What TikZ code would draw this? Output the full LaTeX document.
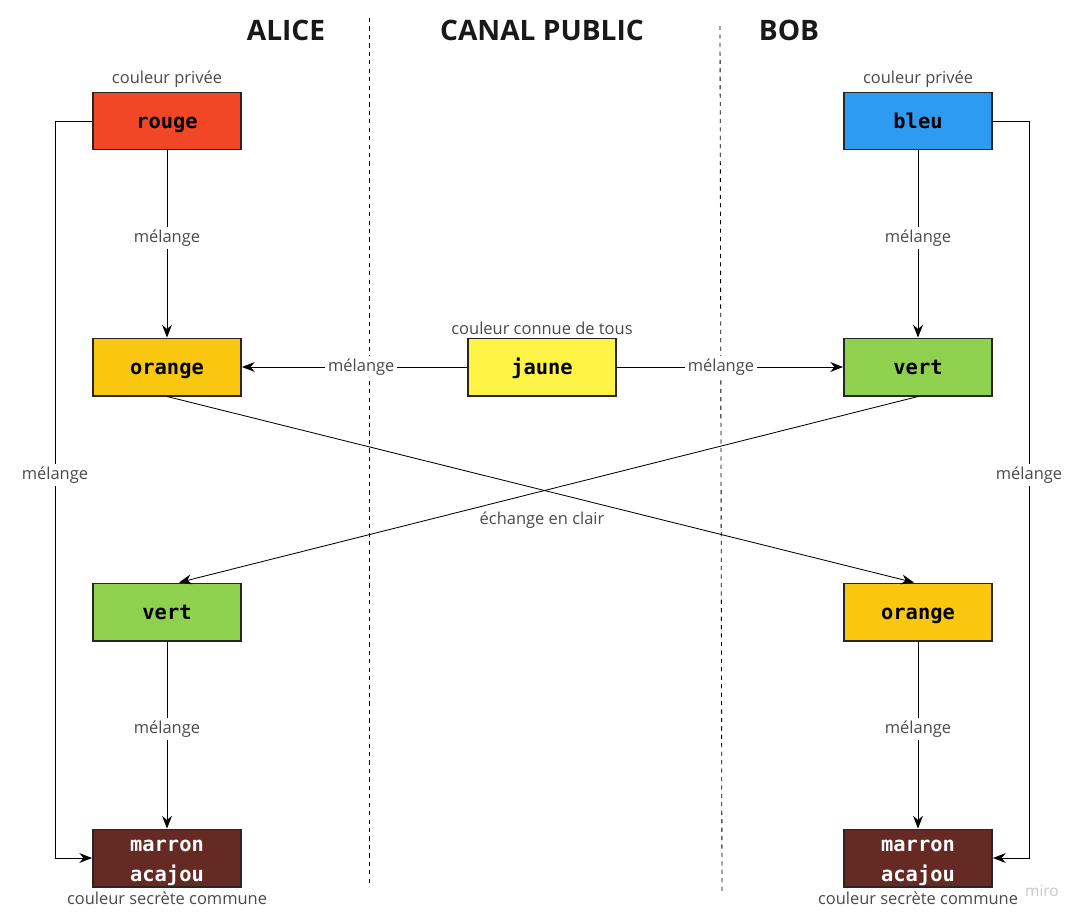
\documentclass[tikz,border=0pt]{standalone}
\usepackage{fontspec}
\setmainfont{Open Sans}
\newfontfamily\boxfont{DejaVu Sans Mono}
\usetikzlibrary{arrows.meta}
\usetikzlibrary{positioning}

\definecolor{rougec}{HTML}{F24726}
\definecolor{orangec}{HTML}{FAC710}
\definecolor{jaunec}{HTML}{FEF445}
\definecolor{vertc}{HTML}{8FD14F}
\definecolor{bleuc}{HTML}{2D9BF0}
\definecolor{marronc}{HTML}{652A24}
\definecolor{textec}{HTML}{4A4A4A}

\begin{document}
\begin{tikzpicture} [x=0.025cm, y=-0.025cm,
  couleur/.style={draw=black!85, line width=1.4pt, minimum width=3.7cm, minimum height=1.425cm, inner sep=0pt, text height=11pt, text depth=0pt, font=\boxfont\bfseries\fontsize{14.5}{21}\selectfont},
  secret/.style={couleur, text height=, text depth=, align=center, fill=marronc, text=white},
  fleche/.style={-{Stealth[length=9pt,width=7pt]}, line width=0.6pt},
  lbl/.style={fill=white, inner sep=2pt, text=textec, font=\fontsize{11.7}{14}\selectfont},
  legende/.style={lbl, fill=none},
  titre/.style={font=\bfseries\fontsize{20}{24}\selectfont, text=black!90}]
\useasboundingbox (0,0) rectangle (1083,923);

% colonnes
\node[titre] (tA) at (286,30) {ALICE};
\node[titre] (tC) at (542,30) {CANAL PUBLIC};
\node[titre] (tB) at (789,30) {BOB};
\draw[dashed, line width=0.6pt] (369,18) -- (369,887);
\draw[dashed, line width=0.6pt] (720,26) -- (722,892);

% boites
\node[couleur, fill=rougec] (rouge) at (167,121) {rouge};
\node[couleur, fill=bleuc] (bleu) at (918,121) {bleu};
\node[couleur, fill=orangec] (orangeA) at (167,367) {orange};
\node[couleur, fill=jaunec] (jaune) at (542,367) {jaune};
\node[couleur, fill=vertc] (vertB) at (918,367) {vert};
\node[couleur, fill=vertc] (vertA) at (167,612) {vert};
\node[couleur, fill=orangec] (orangeB) at (918,612) {orange};
\node[secret] (marronA) at (167,858) {\rule{0pt}{15pt}marron\\acajou};
\node[secret] (marronB) at (918,858) {\rule{0pt}{15pt}marron\\acajou};

% legendes
\node[legende, above=1pt of rouge] (privA) {couleur privée};
\node[legende, above=1pt of bleu] (privB) {couleur privée};
\node[legende, above=0pt of jaune] (tous) {couleur connue de tous};
\node[legende, below=1pt of marronA] (secA) {couleur secrète commune};
\node[legende, below=1pt of marronB] (secB) {couleur secrète commune};

% melanges
\draw[fleche] (rouge) -- (orangeA) node[pos=0.47, lbl] (m1) {mélange};
\draw[fleche] (bleu) -- (vertB) node[pos=0.47, lbl] (m2) {mélange};
\draw[fleche] (jaune) -- (orangeA) node[pos=0.47, lbl] (m3) {mélange};
\draw[fleche] (jaune) -- (vertB) node[pos=0.46, lbl] (m4) {mélange};
\draw[fleche] (vertA) -- (marronA) node[pos=0.47, lbl] (m5) {mélange};
\draw[fleche] (orangeB) -- (marronB) node[pos=0.47, lbl] (m6) {mélange};
\draw[fleche] (rouge.west) -- ++(-37,0) |- (marronA.west) node[pos=0.24, lbl] (m7) {mélange};
\draw[fleche] (bleu.east) -- ++(36,0) |- (marronB.east) node[pos=0.24, lbl] (m8) {mélange};

% echange
\draw[fleche] (orangeA.south) -- ([xshift=-0.1cm]orangeB.north);
\draw[fleche] (vertB.south) -- ([xshift=0.3cm]vertA.north);
\node[legende] (ech) at (542,520) {échange en clair};

\node[text=black!22, font=\fontsize{11}{13}\selectfont] (miro) at (1042,891) {miro};
\end{tikzpicture}
\end{document}
